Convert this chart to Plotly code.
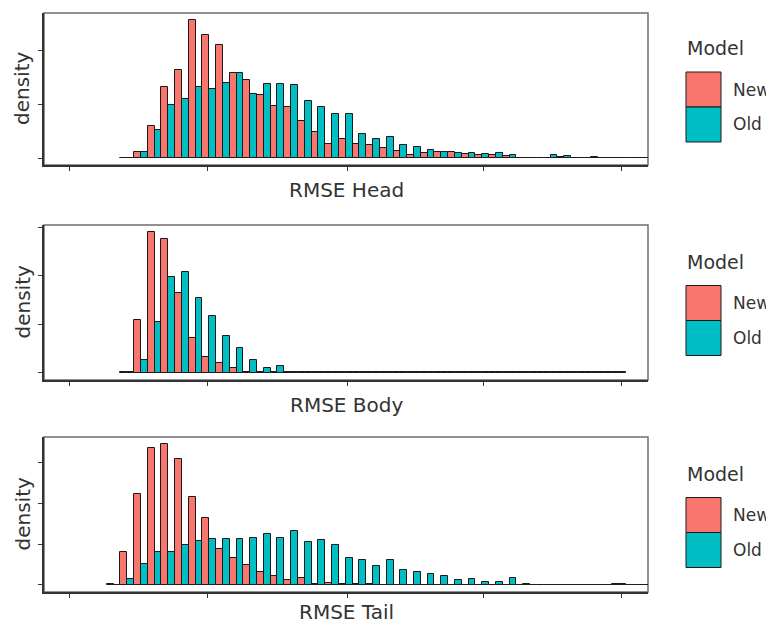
import plotly.graph_objects as go

# ---------------- data ----------------
bins = [0.32, 0.42, 0.52, 0.62, 0.72, 0.82, 0.92, 1.02, 1.12, 1.22,
        1.32, 1.42, 1.52, 1.62, 1.72, 1.82, 1.92, 2.02, 2.12, 2.22,
        2.32, 2.42, 2.52, 2.62, 2.72, 2.82, 2.92, 3.02, 3.12, 3.22,
        3.32, 3.42, 3.52, 3.62, 3.72, 3.82, 3.92, 4.02, 4.12, 4.22]

head_new = [None,
            0.01, 0.12, 0.59, 1.31, 1.64, 2.56, 2.28, 2.10, 1.58, 1.45,
            1.16, 0.97, 0.95, 0.68, 0.48, 0.27, 0.36, 0.27, 0.24, 0.18,
            0.13, 0.06, 0.09, 0.12, 0.11, 0.07, 0.06, 0.05, 0.04, 0.01,
            0.01, 0.01, 0.02, 0.01, 0.01, 0.01, 0.01, 0.01, 0.01]
head_old = [None,
            0.01, 0.12, 0.52, 0.98, 1.10, 1.31, 1.28, 1.39, 1.58, 1.19,
            1.38, 1.38, 1.35, 1.05, 0.94, 0.82, 0.82, 0.44, 0.36, 0.39,
            0.25, 0.21, 0.15, 0.12, 0.09, 0.09, 0.07, 0.10, 0.06, 0.01,
            0.01, 0.06, 0.03, 0.01, 0.02, 0.01, 0.01, 0.01, 0.01]

body_new = [None,
            0.01, 1.10, 2.90, 2.76, 1.64, 0.71, 0.32, 0.20, 0.11, 0.03,
            0.02, 0.02, 0.03, 0.02, 0.01, 0.03, 0.01, 0.01, 0.01, 0.01,
            0.01, 0.01, 0.01, 0.01, 0.01, 0.01, 0.01, 0.01, 0.01, 0.01,
            0.01, 0.01, 0.01, 0.01, 0.01, 0.01, 0.01,
            None, None]
body_old = [None,
            0.01, 0.26, 1.05, 1.97, 2.07, 1.54, 1.17, 0.76, 0.51, 0.27,
            0.11, 0.14, 0.03, 0.03, 0.02, 0.02, 0.01, 0.01, 0.01, 0.01,
            0.01, 0.01, 0.01, 0.01, 0.01, 0.01, 0.01, 0.01, 0.01, 0.01,
            0.01, 0.01, 0.01, 0.01, 0.01, 0.01, 0.01,
            None, None]

tail_new = [0.02, 0.81, 2.22, 3.36, 3.45, 3.08, 2.15, 1.65, 0.88, 0.67,
            0.50, 0.32, 0.22, 0.11, 0.18, 0.03, 0.05, 0.03, 0.02, 0.02,
            0.01, 0.01, 0.01, 0.01, 0.01, 0.01, 0.01, 0.01, 0.01, 0.01,
            0.01, 0.01, 0.01, 0.01, 0.01, 0.01, 0.01, 0.03, 0.01, 0.01]
tail_old = [0.01, 0.15, 0.51, 0.81, 0.81, 0.98, 1.08, 1.12, 1.12, 1.12,
            1.16, 1.24, 1.16, 1.33, 1.06, 1.10, 0.97, 0.66, 0.61, 0.46,
            0.61, 0.37, 0.32, 0.27, 0.23, 0.12, 0.15, 0.08, 0.08, 0.16,
            0.02, 0.01, 0.01, 0.01, 0.01, 0.01, 0.01, 0.02, 0.01, 0.01]

panel_titles = ["RMSE Head", "RMSE Body", "RMSE Tail"]
series_names = ["New", "Old"]
x_ticks = [0.0, 1.01, 2.03, 3.03, 4.04]
y_ticks = [0, 1, 2, 3]

# ---------------- style ----------------
COL_NEW = "#F8766D"
COL_OLD = "#00BFC4"
TXT = "#333333"
FONT = "DejaVu Sans"
OFF = 8                      # page body margin offset
W, H = 774 - OFF, 626 - OFF
L, T = 44 - OFF, 13 - OFF
R = W - (648 - OFF)
B = H - (592 - OFF)
PW, PH = W - L - R, H - T - B

def px_x(px):
    return (px - OFF - L) / PW

def px_y(py):
    return 1 - (py - OFF - T) / PH

# panel vertical extents in reference pixels (top, bottom) and x-title centre
panels_px = [(13, 165), (225, 380), (437, 592)]
title_y = [190, 405, 612]
panels = [(head_new, head_old), (body_new, body_old), (tail_new, tail_old)]

fig = go.Figure()
shapes = []
annotations = []
layout_axes = {}

for i, ((new, old), (ptop, pbot), title, ty) in enumerate(zip(panels, panels_px, panel_titles, title_y)):
    sfx = "" if i == 0 else str(i + 1)
    xa, ya = "x" + sfx, "y" + sfx
    for vals, nm, col in [(new, series_names[0], COL_NEW), (old, series_names[1], COL_OLD)]:
        fig.add_trace(go.Bar(
            x=bins, y=vals, name=nm, xaxis=xa, yaxis=ya,
            marker=dict(color=col, line=dict(color="#1a1a1a", width=1)),
            showlegend=False, offsetgroup=nm,
        ))
    vmax = max(v for v in new + old if v is not None)
    layout_axes["xaxis" + sfx] = dict(
        domain=[0, 1], anchor=ya, range=[-0.19, 4.234],
        tickmode="array", tickvals=x_ticks, showticklabels=False,
        ticks="outside", ticklen=4, tickwidth=1.3, tickcolor=TXT,
        showline=True, linecolor=TXT, linewidth=1.5,
        showgrid=False, zeroline=False, fixedrange=True,
    )
    layout_axes["yaxis" + sfx] = dict(
        domain=[px_y(pbot), px_y(ptop)], anchor=xa,
        range=[-0.05 * vmax, 1.05 * vmax],
        tickmode="array", tickvals=y_ticks, showticklabels=False,
        ticks="outside", ticklen=4, tickwidth=1.3, tickcolor=TXT,
        showline=True, linecolor=TXT, linewidth=1.5,
        showgrid=False, zeroline=False, fixedrange=True,
    )
    shapes.append(dict(type="rect", xref=xa + " domain", yref=ya + " domain",
                       x0=0, x1=1, y0=0, y1=1, layer="below",
                       line=dict(color="#6e6e6e", width=1.5), fillcolor="rgba(0,0,0,0)"))
    annotations.append(dict(text=title, xref="paper", yref="paper",
                            x=0.5, y=px_y(ty), xanchor="center", yanchor="middle",
                            showarrow=False, font=dict(family=FONT, size=20, color=TXT)))
    cy = (ptop + pbot) / 2
    annotations.append(dict(text="density", xref="paper", yref="paper",
                            x=px_x(22), y=px_y(cy), xanchor="center", yanchor="middle",
                            textangle=-90, showarrow=False,
                            font=dict(family=FONT, size=20, color=TXT)))
    annotations.append(dict(text="Model", xref="paper", yref="paper",
                            x=px_x(685), y=px_y(cy - 41), xanchor="left", yanchor="middle",
                            showarrow=False, font=dict(family=FONT, size=19, color=TXT)))
    for j, (nm, col) in enumerate([(series_names[0], COL_NEW), (series_names[1], COL_OLD)]):
        y0 = cy - 17 + j * 35
        shapes.append(dict(type="rect", xref="paper", yref="paper",
                           x0=px_x(686), x1=px_x(721), y0=px_y(y0 + 35), y1=px_y(y0),
                           fillcolor=col, line=dict(color="#1a1a1a", width=1)))
        annotations.append(dict(text=nm, xref="paper", yref="paper",
                                x=px_x(731), y=px_y(y0 + 17.5), xanchor="left", yanchor="middle",
                                showarrow=False, font=dict(family=FONT, size=17, color=TXT)))

fig.update_layout(
    width=W, height=H,
    margin=dict(l=L, r=R, t=T, b=B),
    paper_bgcolor="white", plot_bgcolor="white",
    barmode="group", bargap=0, bargroupgap=0,
    shapes=shapes, annotations=annotations,
    font=dict(family=FONT, color=TXT),
    showlegend=False,
    **layout_axes,
)

fig.write_html("out.html")
